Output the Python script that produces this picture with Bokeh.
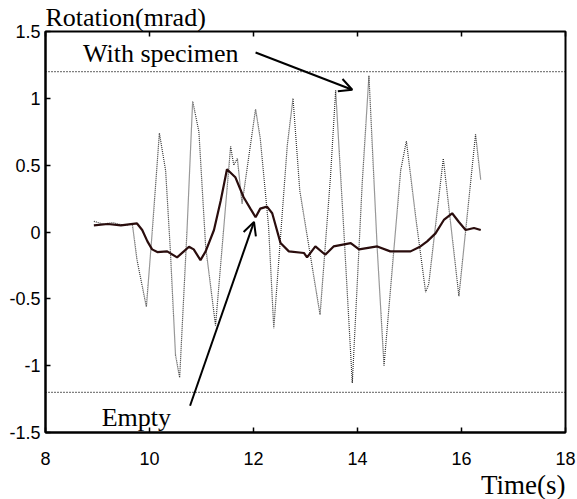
from bokeh.plotting import figure
from bokeh.models import (Range1d, LinearAxis, FixedTicker, NumeralTickFormatter,
                          Span, Label, Arrow, OpenHead, Title)
from bokeh.embed import file_html
from bokeh.resources import INLINE

# ---- data ----
spec_t = [8.93, 9.10, 9.30, 9.50, 9.67, 9.76, 9.94, 10.05, 10.19, 10.31, 10.40, 10.50, 10.58,
          10.72, 10.83, 10.95, 11.08, 11.27, 11.43, 11.56, 11.62, 11.69, 11.78, 12.04, 12.13,
          12.29, 12.39, 12.65, 12.76, 12.89, 13.28, 13.48, 13.58, 13.74, 13.90, 14.09, 14.22,
          14.38, 14.51, 14.70, 14.83, 14.94, 15.12, 15.31, 15.37, 15.65, 15.95, 16.27, 16.37]
spec_v = [0.08, 0.06, 0.07, 0.05, 0.06, -0.21, -0.56, -0.01, 0.74, 0.46, -0.13, -0.92, -1.09,
          0.00, 0.98, 0.75, -0.11, -0.70, 0.04, 0.64, 0.50, 0.55, 0.21, 0.92, 0.70,
          0.04, -0.72, 0.65, 1.00, 0.31, -0.62, 0.41, 1.06, -0.01, -1.13, 0.36, 1.17,
          -0.13, -1.00, -0.13, 0.46, 0.68, 0.11, -0.45, -0.39, 0.55, -0.48, 0.73, 0.39]

empty_t = [8.93, 9.20, 9.45, 9.76, 9.86, 9.96, 10.05, 10.15, 10.34, 10.53, 10.66, 10.76, 10.85,
           10.98, 11.08, 11.24, 11.37, 11.49, 11.65, 11.81, 11.94, 12.04, 12.13, 12.26, 12.36,
           12.52, 12.68, 12.97, 13.03, 13.19, 13.38, 13.54, 13.87, 14.03, 14.38, 14.63, 15.02,
           15.21, 15.34, 15.50, 15.66, 15.82, 15.95, 16.08, 16.24, 16.37]
empty_v = [0.05, 0.06, 0.05, 0.064, 0.015, -0.07, -0.13, -0.15, -0.145, -0.19, -0.145, -0.11, -0.13,
           -0.21, -0.145, 0.015, 0.235, 0.47, 0.41, 0.26, 0.175, 0.11, 0.175, 0.19, 0.14,
           -0.083, -0.145, -0.157, -0.19, -0.108, -0.17, -0.108, -0.083, -0.13, -0.108, -0.145, -0.145,
           -0.108, -0.07, -0.01, 0.09, 0.14, 0.075, 0.015, 0.03, 0.015]

limits = [1.2, -1.2]
x_ticks = [8, 10, 12, 14, 16, 18]
y_ticks = [-1.5, -1, -0.5, 0, 0.5, 1, 1.5]

SERIF = "Liberation Serif"
SANS = "Liberation Sans"

p = figure(width=577, height=499, output_backend="svg", toolbar_location=None,
           x_range=Range1d(8, 18), y_range=Range1d(-1.5, 1.5),
           min_border_left=45, min_border_right=12, min_border_top=28, min_border_bottom=63)
p.background_fill_color = "white"
p.border_fill_color = "white"
p.outline_line_color = "black"
p.outline_line_width = 2
p.xgrid.visible = False
p.ygrid.visible = False

p.title = Title(text="Rotation(mrad)", align="left", text_font=SERIF, text_font_size="26px",
                text_font_style="normal", text_color="black", standoff=0)
p.add_layout(Title(text="Time(s)", align="right", text_font=SERIF, text_font_size="27px",
                   text_font_style="normal", text_color="black", standoff=0), "below")

for ax in (p.xaxis[0], p.yaxis[0]):
    ax.axis_line_color = "black"
    ax.axis_line_width = 2
    ax.major_tick_in = 5
    ax.major_tick_out = 0
    ax.major_tick_line_color = "black"
    ax.major_tick_line_width = 1.5
    ax.minor_tick_line_color = None
    ax.major_label_text_font = SANS
    ax.major_label_text_font_size = "18px"
    ax.major_label_text_color = "black"

p.xaxis[0].ticker = FixedTicker(ticks=x_ticks)
p.yaxis[0].ticker = FixedTicker(ticks=y_ticks)
p.yaxis[0].formatter = NumeralTickFormatter(format="0.[0]")
p.xaxis[0].major_label_standoff = 19
p.yaxis[0].major_label_standoff = 5

top = LinearAxis(ticker=FixedTicker(ticks=x_ticks), major_label_text_font_size="1px",
                 major_label_text_color=None, major_tick_in=5, major_tick_out=0,
                 major_tick_line_width=1.5, major_tick_line_color="black",
                 minor_tick_line_color=None, axis_line_color=None, major_label_standoff=0)
p.add_layout(top, "above")

for lv in limits:
    p.add_layout(Span(location=lv, dimension="width", line_color="black",
                      line_width=1.2, line_dash="1 2"))

p.line(spec_t, spec_v, line_color="#333333", line_width=1.2, line_dash="1 1")
p.line(empty_t, empty_v, line_color="#2a0d0d", line_width=2.2)

p.add_layout(Arrow(end=OpenHead(size=13, line_width=2, line_color="black"),
                   x_start=12.04, y_start=1.343, x_end=13.90, y_end=1.064,
                   line_width=2, line_color="black"))
p.add_layout(Arrow(end=OpenHead(size=13, line_width=2, line_color="black"),
                   x_start=10.78, y_start=-1.30, x_end=12.01, y_end=0.076,
                   line_width=2, line_color="black"))

p.add_layout(Label(x=8.72, y=1.335, text="With specimen", text_font=SERIF,
                   text_font_size="26px", text_color="black", text_baseline="alphabetic"))
p.add_layout(Label(x=9.08, y=-1.39, text="Empty", text_font=SERIF,
                   text_font_size="26px", text_color="black", text_baseline="alphabetic"))

open("out.html", "w").write(file_html(p, INLINE))
